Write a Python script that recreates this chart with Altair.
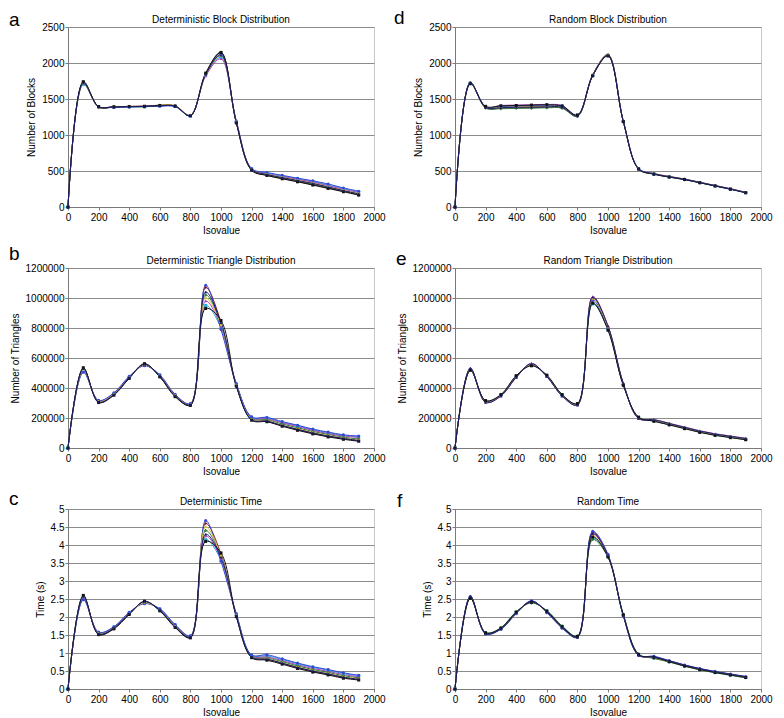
import altair as alt
import pandas as pd

FONT = "Liberation Sans"

ISOVALUE = [0, 100, 200, 300, 400, 500, 600, 700, 800, 900, 1000,
            1100, 1200, 1300, 1400, 1500, 1600, 1700, 1800, 1900]
X_TICKS = [0, 200, 400, 600, 800, 1000, 1200, 1400, 1600, 1800, 2000]

SERIES = ["Run 1", "Run 2", "Run 3", "Run 4", "Run 5", "Run 6", "Run 7", "Run 8"]
COLORS = ["#8a1414", "#2aa7d9", "#b03bbf", "#2f7a3a", "#3344d6", "#d8c23a", "#111111", "#1b1b6e"]
SHAPES = ["diamond", "square", "triangle-up", "cross", "circle", "diamond", "square", "triangle-up"]

# a: Deterministic Block Distribution
BLOCK_DET = [
    [0, 1730, 1385, 1392, 1398, 1400, 1412, 1405, 1275, 1850, 2140, 1170, 510, 440, 395, 355, 310, 265, 220, 170],
    [0, 1700, 1395, 1388, 1392, 1390, 1405, 1398, 1265, 1830, 2080, 1190, 530, 470, 430, 395, 355, 305, 255, 210],
    [0, 1715, 1390, 1395, 1396, 1398, 1415, 1402, 1270, 1820, 2060, 1200, 525, 460, 420, 385, 345, 295, 245, 200],
    [0, 1735, 1388, 1390, 1394, 1392, 1408, 1400, 1272, 1855, 2150, 1175, 515, 445, 400, 360, 320, 270, 225, 178],
    [0, 1725, 1392, 1385, 1390, 1396, 1400, 1395, 1268, 1845, 2120, 1185, 535, 480, 440, 400, 365, 320, 265, 220],
    [0, 1710, 1386, 1393, 1397, 1394, 1418, 1406, 1274, 1835, 2100, 1180, 520, 455, 412, 372, 332, 282, 232, 188],
    [0, 1740, 1394, 1391, 1395, 1399, 1410, 1403, 1266, 1860, 2145, 1168, 512, 438, 392, 350, 305, 258, 212, 165],
    [0, 1720, 1390, 1389, 1393, 1397, 1406, 1399, 1270, 1840, 2110, 1178, 522, 452, 408, 368, 328, 278, 228, 182],
]

# d: Random Block Distribution
BLOCK_RND = [
    [0, 1725, 1380, 1375, 1378, 1380, 1385, 1380, 1262, 1832, 2115, 1192, 528, 462, 422, 386, 341, 296, 251, 202],
    [0, 1715, 1395, 1400, 1405, 1410, 1415, 1405, 1275, 1828, 2105, 1188, 532, 458, 418, 384, 339, 294, 249, 199],
    [0, 1720, 1385, 1410, 1415, 1420, 1425, 1410, 1268, 1835, 2120, 1195, 530, 465, 425, 390, 345, 300, 255, 205],
    [0, 1730, 1375, 1365, 1370, 1372, 1378, 1372, 1258, 1825, 2100, 1185, 525, 455, 415, 380, 336, 291, 246, 197],
    [0, 1718, 1392, 1395, 1398, 1402, 1408, 1398, 1272, 1830, 2112, 1190, 534, 460, 420, 385, 340, 295, 250, 200],
    [0, 1722, 1388, 1385, 1390, 1395, 1400, 1390, 1265, 1838, 2118, 1193, 529, 463, 423, 388, 343, 298, 252, 203],
    [0, 1712, 1398, 1405, 1410, 1415, 1420, 1402, 1278, 1822, 2098, 1186, 527, 456, 416, 382, 337, 292, 248, 198],
    [0, 1728, 1382, 1380, 1385, 1388, 1392, 1385, 1266, 1834, 2108, 1191, 531, 461, 421, 386, 342, 297, 251, 201],
]

# b: Deterministic Triangle Distribution
TRI_DET = [
    [0, 530000, 305000, 355000, 468000, 560000, 478000, 345000, 288000, 1070000, 840000, 415000, 190000, 178000, 148000, 122000, 98000, 78000, 62000, 48000],
    [0, 510000, 312000, 362000, 472000, 552000, 485000, 352000, 292000, 950000, 800000, 425000, 205000, 200000, 172000, 148000, 122000, 102000, 84000, 75000],
    [0, 515000, 315000, 365000, 475000, 550000, 482000, 355000, 294000, 980000, 810000, 428000, 200000, 195000, 168000, 142000, 118000, 96000, 80000, 70000],
    [0, 525000, 308000, 358000, 466000, 556000, 476000, 348000, 286000, 1020000, 830000, 418000, 195000, 188000, 160000, 135000, 110000, 90000, 72000, 60000],
    [0, 505000, 318000, 368000, 478000, 548000, 488000, 358000, 296000, 1085000, 790000, 430000, 208000, 204000, 176000, 152000, 126000, 106000, 88000, 80000],
    [0, 520000, 310000, 360000, 470000, 555000, 480000, 350000, 290000, 1000000, 820000, 420000, 192000, 182000, 152000, 128000, 103000, 83000, 66000, 52000],
    [0, 535000, 303000, 352000, 464000, 562000, 474000, 342000, 284000, 930000, 850000, 412000, 185000, 175000, 145000, 118000, 94000, 74000, 58000, 45000],
    [0, 528000, 306000, 356000, 469000, 558000, 479000, 347000, 289000, 1040000, 835000, 416000, 188000, 180000, 150000, 125000, 100000, 80000, 64000, 50000],
]

# e: Random Triangle Distribution
TRI_RND = [
    [0, 528000, 305000, 348000, 472000, 560000, 478000, 348000, 288000, 1000000, 810000, 428000, 198000, 188000, 162000, 137000, 112000, 92000, 77000, 62000],
    [0, 522000, 312000, 352000, 478000, 552000, 482000, 352000, 292000, 960000, 795000, 422000, 202000, 182000, 158000, 133000, 108000, 88000, 73000, 58000],
    [0, 530000, 308000, 346000, 470000, 565000, 476000, 346000, 286000, 1010000, 815000, 430000, 196000, 190000, 165000, 140000, 115000, 95000, 80000, 65000],
    [0, 520000, 314000, 354000, 480000, 550000, 484000, 354000, 294000, 970000, 790000, 420000, 204000, 180000, 156000, 131000, 106000, 86000, 71000, 56000],
    [0, 526000, 310000, 350000, 475000, 556000, 480000, 350000, 290000, 985000, 800000, 425000, 200000, 185000, 160000, 135000, 110000, 90000, 75000, 60000],
    [0, 524000, 306000, 349000, 473000, 558000, 479000, 349000, 289000, 995000, 805000, 427000, 199000, 187000, 161000, 136000, 111000, 91000, 76000, 61000],
    [0, 518000, 316000, 356000, 482000, 548000, 486000, 356000, 296000, 965000, 785000, 418000, 206000, 178000, 154000, 129000, 104000, 84000, 69000, 55000],
    [0, 532000, 304000, 347000, 471000, 562000, 477000, 347000, 287000, 1005000, 812000, 432000, 197000, 189000, 163000, 138000, 113000, 93000, 78000, 63000],
]

# c: Deterministic Time
TIME_DET = [
    [0, 2.58, 1.52, 1.68, 2.08, 2.42, 2.18, 1.72, 1.43, 4.60, 3.75, 2.02, 0.88, 0.82, 0.71, 0.59, 0.49, 0.41, 0.32, 0.26],
    [0, 2.50, 1.57, 1.72, 2.12, 2.38, 2.22, 1.78, 1.47, 4.15, 3.58, 2.08, 0.94, 0.92, 0.82, 0.70, 0.60, 0.52, 0.43, 0.37],
    [0, 2.53, 1.56, 1.71, 2.11, 2.39, 2.21, 1.76, 1.46, 4.25, 3.62, 2.06, 0.92, 0.89, 0.79, 0.67, 0.57, 0.49, 0.40, 0.34],
    [0, 2.55, 1.55, 1.70, 2.10, 2.41, 2.20, 1.75, 1.45, 4.40, 3.68, 2.05, 0.90, 0.86, 0.76, 0.64, 0.54, 0.46, 0.37, 0.31],
    [0, 2.48, 1.58, 1.73, 2.13, 2.37, 2.23, 1.79, 1.48, 4.68, 3.55, 2.09, 0.95, 0.95, 0.84, 0.72, 0.62, 0.54, 0.45, 0.38],
    [0, 2.56, 1.54, 1.69, 2.09, 2.40, 2.19, 1.74, 1.44, 4.50, 3.70, 2.04, 0.89, 0.84, 0.73, 0.61, 0.51, 0.43, 0.34, 0.28],
    [0, 2.60, 1.51, 1.67, 2.07, 2.44, 2.17, 1.71, 1.42, 4.10, 3.78, 2.01, 0.87, 0.80, 0.69, 0.57, 0.47, 0.39, 0.30, 0.25],
    [0, 2.57, 1.53, 1.69, 2.09, 2.43, 2.19, 1.73, 1.44, 4.30, 3.66, 2.03, 0.89, 0.83, 0.72, 0.60, 0.50, 0.42, 0.33, 0.27],
]

# f: Random Time
TIME_RND = [
    [0, 2.56, 1.54, 1.67, 2.10, 2.44, 2.13, 1.70, 1.44, 4.35, 3.72, 2.04, 0.94, 0.90, 0.78, 0.66, 0.56, 0.48, 0.41, 0.34],
    [0, 2.54, 1.56, 1.69, 2.14, 2.40, 2.17, 1.74, 1.46, 4.18, 3.68, 2.06, 0.96, 0.86, 0.76, 0.64, 0.54, 0.46, 0.39, 0.32],
    [0, 2.55, 1.55, 1.68, 2.12, 2.43, 2.15, 1.72, 1.45, 4.30, 3.70, 2.05, 0.95, 0.89, 0.78, 0.66, 0.56, 0.48, 0.40, 0.34],
    [0, 2.53, 1.57, 1.70, 2.15, 2.39, 2.18, 1.75, 1.47, 4.15, 3.66, 2.07, 0.97, 0.85, 0.75, 0.63, 0.53, 0.45, 0.38, 0.31],
    [0, 2.57, 1.53, 1.66, 2.09, 2.45, 2.12, 1.69, 1.43, 4.38, 3.74, 2.03, 0.93, 0.91, 0.79, 0.67, 0.57, 0.49, 0.42, 0.35],
    [0, 2.55, 1.55, 1.68, 2.11, 2.42, 2.14, 1.71, 1.45, 4.25, 3.69, 2.05, 0.95, 0.87, 0.77, 0.65, 0.55, 0.47, 0.40, 0.33],
    [0, 2.52, 1.56, 1.69, 2.13, 2.41, 2.16, 1.73, 1.46, 4.22, 3.67, 2.06, 0.96, 0.88, 0.76, 0.64, 0.54, 0.46, 0.39, 0.32],
    [0, 2.58, 1.54, 1.67, 2.11, 2.44, 2.14, 1.71, 1.44, 4.32, 3.71, 2.04, 0.94, 0.89, 0.78, 0.66, 0.56, 0.48, 0.41, 0.34],
]

BLOCK_TICKS = [0, 500, 1000, 1500, 2000, 2500]
TRI_TICKS = [0, 200000, 400000, 600000, 800000, 1000000, 1200000]
TIME_TICKS = [0, 0.5, 1, 1.5, 2, 2.5, 3, 3.5, 4, 4.5, 5]

W = 306
H = 180


def panel(letter, title, ytitle, yticks, yfmt, values, ldx, ldy):
    rows = []
    for name, vals in zip(SERIES, values):
        for xv, yv in zip(ISOVALUE, vals):
            rows.append({"iso": xv, "val": yv, "run": name})
    df = pd.DataFrame(rows)
    x = alt.X("iso:Q", scale=alt.Scale(domain=[0, 2000], nice=False),
              axis=alt.Axis(values=X_TICKS, title="Isovalue", grid=False, format="d",
                            tickSize=3, labelPadding=2, titlePadding=3,
                            labelOverlap=False, labelFlush=False))
    y = alt.Y("val:Q", scale=alt.Scale(domain=[yticks[0], yticks[-1]], nice=False),
              axis=alt.Axis(values=yticks, title=ytitle, grid=True, format=yfmt,
                            tickSize=3, labelPadding=1, titlePadding=5,
                            labelOverlap=False, labelFlush=False))
    color = alt.Color("run:N", scale=alt.Scale(domain=SERIES, range=COLORS), legend=None)
    shape = alt.Shape("run:N", scale=alt.Scale(domain=SERIES, range=SHAPES), legend=None)
    base = alt.Chart(df)
    lines = base.mark_line(interpolate="catmull-rom", strokeWidth=1).encode(
        x=x, y=y, color=color, order="iso:Q")
    pts = base.mark_point(filled=True, size=9, opacity=1).encode(
        x=x, y=y, color=color, shape=shape)
    lab_df = pd.DataFrame({"letter": [letter], "title": [title]})
    lab = alt.Chart(lab_df).mark_text(
        align="left", baseline="alphabetic", fontSize=19, font=FONT, color="black"
    ).encode(x=alt.value(ldx), y=alt.value(ldy), text="letter:N")
    ttl = alt.Chart(lab_df).mark_text(
        align="center", baseline="alphabetic", fontSize=10, font=FONT, color="black"
    ).encode(x=alt.value(W / 2), y=alt.value(-4), text="title:N")
    return alt.layer(lines, pts, lab, ttl).properties(width=W, height=H)


charts = [
    panel("a", "Deterministic Block Distribution", "Number of Blocks", BLOCK_TICKS, "d", BLOCK_DET, -59, -1),
    panel("d", "Random Block Distribution", "Number of Blocks", BLOCK_TICKS, "d", BLOCK_RND, -61, -3),
    panel("b", "Deterministic Triangle Distribution", "Number of Triangles", TRI_TICKS, "d", TRI_DET, -59, -8),
    panel("e", "Random Triangle Distribution", "Number of Triangles", TRI_TICKS, "d", TRI_RND, -59, -3),
    panel("c", "Deterministic Time", "Time (s)", TIME_TICKS, "~g", TIME_DET, -59, -4),
    panel("f", "Random Time", "Time (s)", TIME_TICKS, "~g", TIME_RND, -58, -2),
]

chart = alt.concat(*charts, columns=2, spacing={"row": 61, "column": 81}, bounds="flush").properties(
    padding=0
).configure_axis(
    labelFont=FONT, titleFont=FONT, labelFontSize=10, titleFontSize=10,
    titleFontWeight="normal", labelColor="black", titleColor="black",
    domainColor="#7a7a7a", tickColor="#7a7a7a", gridColor="#8c8c8c", gridWidth=1
).configure_view(stroke="#c8c8c8")

chart.save("out.html", embed_options={"renderer": "svg", "actions": False})
